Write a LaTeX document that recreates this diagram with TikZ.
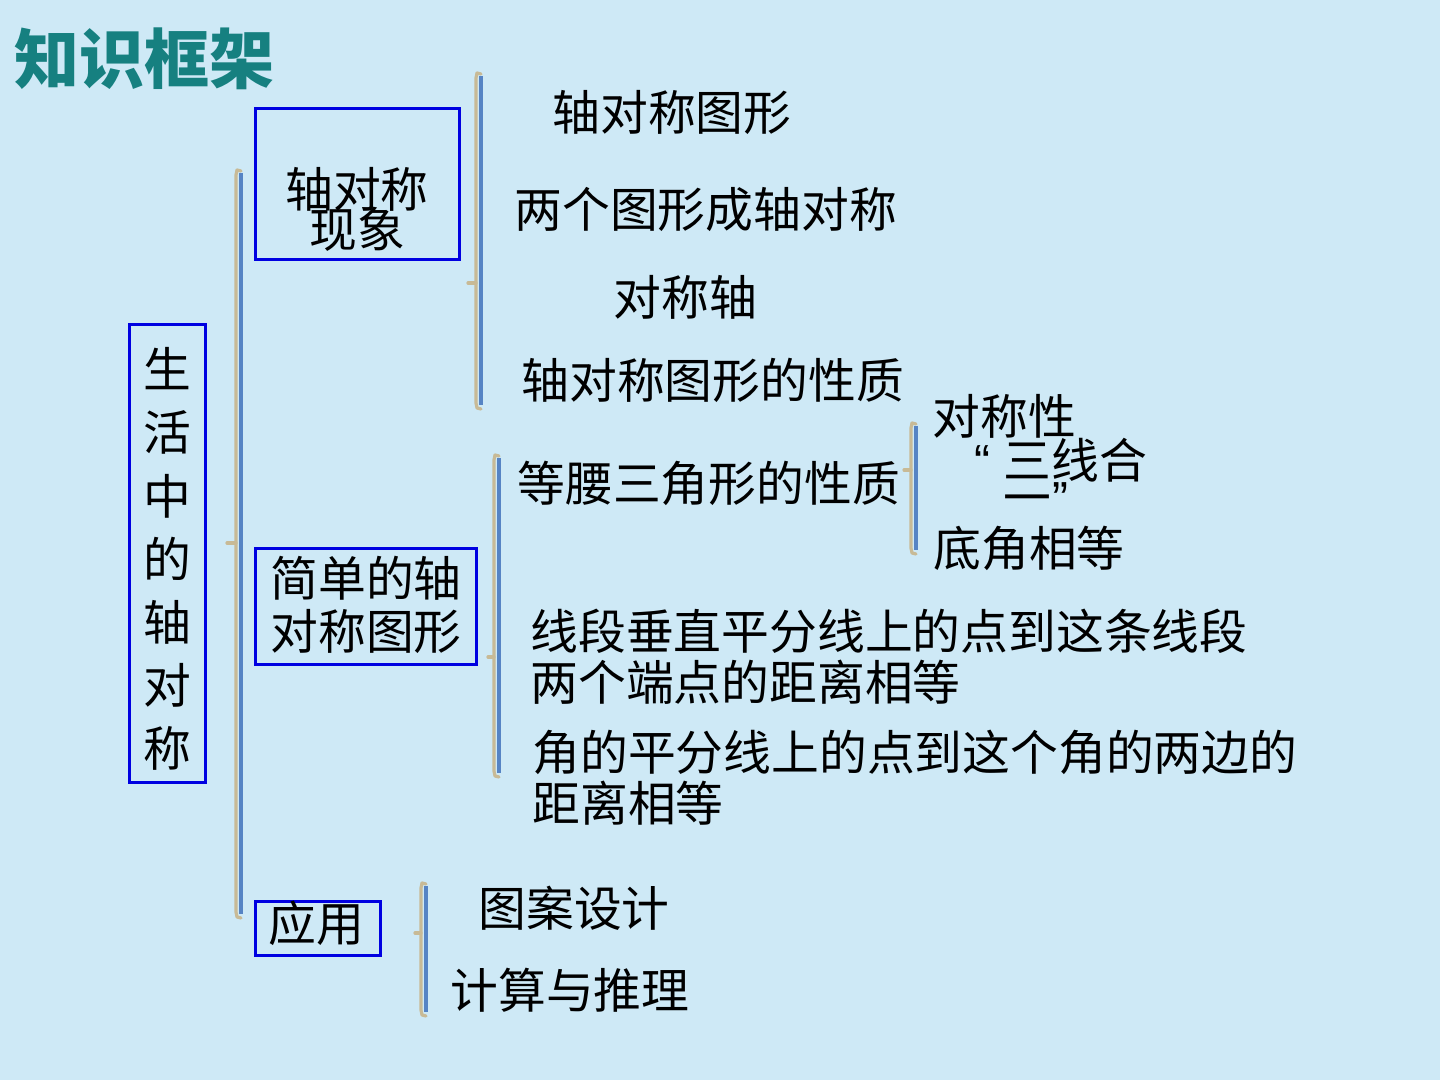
\documentclass[tikz,border=0pt]{standalone}
\usepackage{fontspec}
\setmainfont{Noto Sans CJK SC}
\newfontfamily\cjkfont{Noto Sans CJK SC}
\newfontfamily\quotefont{Liberation Sans}
\definecolor{bgcol}{RGB}{206,233,246}
\definecolor{titlecol}{RGB}{22,128,128}
\definecolor{boxcol}{RGB}{0,0,225}
\definecolor{tancol}{RGB}{200,186,150}
\definecolor{brkblue}{RGB}{86,132,196}
\tikzset{
  txt/.style={anchor=base west, inner sep=0pt, font=\fontsize{23.9}{23.9}\selectfont\cjkfont, text=black},
  qtxt/.style={anchor=base west, inner sep=0pt, font=\fontsize{23.9}{23.9}\selectfont\quotefont, text=black},
  vtxt/.style={anchor=base, inner sep=0pt, font=\fontsize{23.9}{23.9}\selectfont\cjkfont, text=black},
  framebox/.style={draw=boxcol, line width=1.5pt, inner sep=0pt},
  tanline/.style={draw=tancol, line width=1.6pt, line cap=round, line join=round},
  blueline/.style={draw=brkblue, line width=2pt},
}
% bracket: x, top, bottom, tick y, tick length (all in px)
\newcommand{\drawbrk}[5]{%
  \draw[tanline] (#1+5,#2+1) -- (#1+1,#2) -- (#1,#2+5) -- (#1,#3-5) -- (#1+1,#3) -- (#1+5,#3+1);
  \draw[blueline] (#1+4.5,#2+3) -- (#1+4.5,#3-3);
  \draw[tanline] (#1-#5,#4) -- (#1,#4);
}
\begin{document}
\begin{tikzpicture}[x=0.5pt,y=-0.5pt]
\fill[bgcol] (0,0) rectangle (1440,1080);
\useasboundingbox (0,0) rectangle (1440,1080);

% title
\node[anchor=base west, inner sep=0pt, text=titlecol, font=\fontsize{32.5}{32.5}\selectfont\bfseries] (title) at (14,84) {知识框架};

% boxes (sizes in pt = px/2)
\node[framebox, minimum width=38pt, minimum height=228.5pt] (root) at (167,553.5) {};
\node[framebox, minimum width=102pt, minimum height=75.5pt] (b1) at (357,184.5) {};
\node[framebox, minimum width=110.5pt, minimum height=58pt] (b2) at (365.5,606) {};
\node[framebox, minimum width=62.5pt, minimum height=27pt] (b3) at (317.5,928) {};

% vertical title in root box
\node[vtxt] (v1) at (167,388) {生};
\node[vtxt] (v2) at (167,451) {活};
\node[vtxt] (v3) at (167,514) {中};
\node[vtxt] (v4) at (167,577) {的};
\node[vtxt] (v5) at (167,640) {轴};
\node[vtxt] (v6) at (167,703) {对};
\node[vtxt] (v7) at (167,766) {称};

% box texts
\node[vtxt] (b1a) at (357,208) {轴对称};
\node[vtxt] (b1b) at (357,248) {现象};
\node[vtxt] (b2a) at (366,596) {简单的轴};
\node[vtxt] (b2b) at (366,649) {对称图形};
\node[vtxt] (b3a) at (316,941) {应用};

% leaves
\node[txt] (t1) at (552,131) {轴对称图形};
\node[txt] (t2) at (514,228) {两个图形成轴对称};
\node[txt] (t3) at (613,316) {对称轴};
\node[txt] (t4) at (521,399) {轴对称图形的性质};
\node[txt] (t5) at (517,502) {等腰三角形的性质};
\node[txt] (t6) at (932,435) {对称性};
\node[qtxt] (t7q) at (974,479) {“};
\node[txt] (t7a) at (1003,479) {三线合};
\node[txt] (t7b) at (1003,516) {一};
\node[qtxt] (t7c) at (1052,516) {”};
\node[txt] (t8) at (933,566) {底角相等};
\node[txt] (t9a) at (530,649) {线段垂直平分线上的点到这条线段};
\node[txt] (t9b) at (530,700) {两个端点的距离相等};
\node[txt] (t10a) at (532,770) {角的平分线上的点到这个角的两边的};
\node[txt] (t10b) at (532,821) {距离相等};
\node[txt] (t11) at (478,926) {图案设计};
\node[txt] (t12) at (450,1008) {计算与推理};

% brackets
\drawbrk{236}{170}{917}{543}{9}
\drawbrk{476}{73}{408}{283}{8}
\drawbrk{494}{455}{776}{657}{6}
\drawbrk{911}{423}{553}{470}{7}
\drawbrk{421}{883}{1015}{933}{6}
\end{tikzpicture}
\end{document}
